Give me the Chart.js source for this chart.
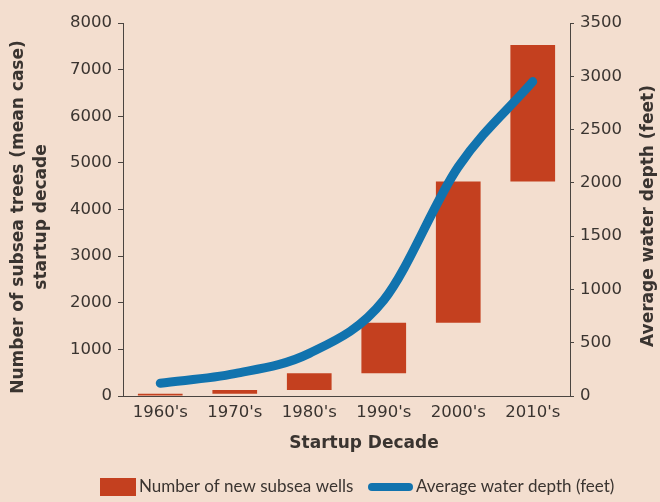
<!DOCTYPE html>
<html>
<head>
<meta charset="utf-8">
<script src="https://cdn.jsdelivr.net/npm/chart.js@4/dist/chart.umd.min.js"></script>
<style>
  html, body { margin: 0; padding: 0; background: #f3decf; }
  #wrap { width: 660px; height: 502px; }
</style>
</head>
<body>
<div id="wrap"><canvas id="chart" width="660" height="502"></canvas></div>
<script>
// Startup decades on the category axis
const decades = ["1960's", "1970's", "1980's", "1990's", "2000's", "2010's"];
// Floating bars: cumulative subsea trees at start and end of each decade
const wellsStart = [0, 50, 130, 490, 1570, 4600];
const wellsEnd = [50, 130, 490, 1570, 4600, 7530];
// Average water depth (feet) per decade
const waterDepth = [120, 210, 400, 900, 2150, 2950];
// Axis tick values
const wellTicks = [0, 1000, 2000, 3000, 4000, 5000, 6000, 7000, 8000];
const depthTicks = [0, 500, 1000, 1500, 2000, 2500, 3000, 3500];

const seriesNames = ['Number of new subsea wells', 'Average water depth (feet)'];
const leftTitle = ['Number of subsea trees (mean case)', 'startup decade'];
const rightTitle = 'Average water depth (feet)';
const bottomTitle = 'Startup Decade';

const BG = '#f3decf';
const RED = '#c4401f';
const BLUE = '#1173ae';
const AXIS = '#4a4440';
const TEXT = '#3a3430';
const tickFont = { family: '"DejaVu Sans", Lato, sans-serif', size: 16.5 };
const TITLE_FONT = 'bold 17px "DejaVu Sans", "Open Sans", sans-serif';

const background = {
  id: 'background',
  beforeDraw(chart) {
    const ctx = chart.ctx;
    ctx.save();
    ctx.fillStyle = BG;
    ctx.fillRect(0, 0, chart.width, chart.height);
    ctx.restore();
  }
};

// Axis titles: vertical ones read bottom-to-top
const axisTitles = {
  id: 'axisTitles',
  afterDraw(chart) {
    const ctx = chart.ctx;
    ctx.save();
    ctx.fillStyle = TEXT;
    ctx.textAlign = 'center';
    ctx.textBaseline = 'middle';
    ctx.font = TITLE_FONT;
    ctx.fillText(bottomTitle, 364, 444);
    ctx.save();
    ctx.translate(19, 217);
    ctx.rotate(-Math.PI / 2);
    ctx.fillText(leftTitle[0], 0, 0);
    ctx.fillText(leftTitle[1], 0, 23);
    ctx.restore();
    ctx.translate(649, 216);
    ctx.rotate(-Math.PI / 2);
    ctx.fillText(rightTitle, 0, 0);
    ctx.restore();
  }
};

// Legend row under the x-axis title
const bottomLegend = {
  id: 'bottomLegend',
  afterDraw(chart) {
    const ctx = chart.ctx;
    const ds = chart.data.datasets;
    const y = 487;
    ctx.save();
    ctx.font = '17px Lato, sans-serif';
    ctx.textBaseline = 'middle';
    ctx.fillStyle = ds[0].backgroundColor;
    ctx.fillRect(100, 478, 36, 18);
    ctx.fillStyle = TEXT;
    ctx.fillText(ds[0].label, 139, y);
    ctx.strokeStyle = ds[1].borderColor;
    ctx.lineWidth = 8;
    ctx.lineCap = 'round';
    ctx.beginPath();
    ctx.moveTo(372, y);
    ctx.lineTo(409, y);
    ctx.stroke();
    ctx.fillText(ds[1].label, 416, y);
    ctx.restore();
  }
};

new Chart(document.getElementById('chart'), {
  data: {
    labels: decades,
    datasets: [
      {
        type: 'bar',
        label: seriesNames[0],
        data: decades.map((d, i) => [wellsStart[i], wellsEnd[i]]),
        backgroundColor: RED,
        borderWidth: 0,
        yAxisID: 'y',
        order: 2,
        barPercentage: 0.6,
        categoryPercentage: 1
      },
      {
        type: 'line',
        label: seriesNames[1],
        data: waterDepth,
        borderColor: BLUE,
        backgroundColor: BLUE,
        borderWidth: 9,
        borderCapStyle: 'round',
        pointRadius: 0,
        cubicInterpolationMode: 'monotone',
        yAxisID: 'y1',
        order: 1
      }
    ]
  },
  options: {
    responsive: false,
    animation: false,
    devicePixelRatio: 1,
    layout: { padding: { top: 23, left: 0, right: 0, bottom: 0 } },
    plugins: {
      legend: { display: false },
      tooltip: { enabled: false }
    },
    scales: {
      x: {
        grid: { display: false, drawTicks: false },
        border: { display: true, color: AXIS, width: 1 },
        ticks: { font: tickFont, color: TEXT, padding: 7, maxRotation: 0 },
        afterFit(s) { s.height = 106; }
      },
      y: {
        position: 'left',
        min: 0, max: 8000,
        afterBuildTicks(s) { s.ticks = wellTicks.map(v => ({ value: v })); },
        ticks: { font: tickFont, color: TEXT, padding: 6, callback: v => String(v) },
        grid: { drawOnChartArea: false, drawTicks: true, tickLength: 5, color: AXIS },
        border: { display: true, color: AXIS, width: 1 },
        afterFit(s) { s.width = 123; }
      },
      y1: {
        position: 'right',
        min: 0, max: 3500,
        afterBuildTicks(s) { s.ticks = depthTicks.map(v => ({ value: v })); },
        ticks: { font: tickFont, color: TEXT, padding: 6, callback: v => String(v) },
        grid: { drawOnChartArea: false, drawTicks: true, tickLength: 4, color: AXIS },
        border: { display: true, color: AXIS, width: 1 },
        afterFit(s) { s.width = 90; }
      }
    }
  },
  plugins: [background, axisTitles, bottomLegend]
});
</script>
</body>
</html>
